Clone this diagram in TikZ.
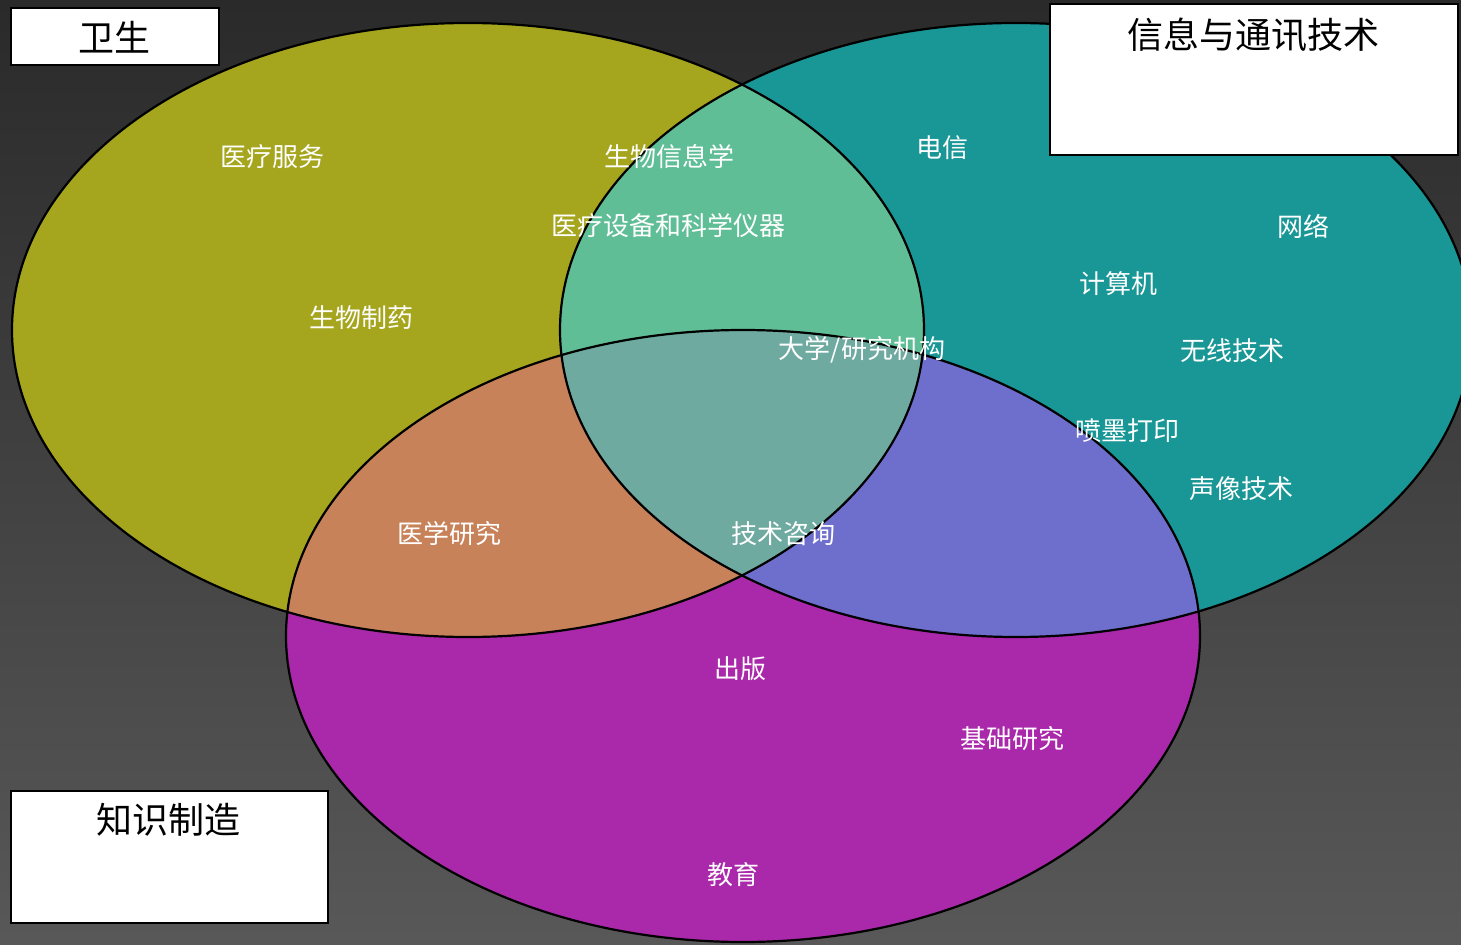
\documentclass[tikz,border=0pt]{standalone}
\usepackage{fontspec}
\newfontfamily\cjk{Noto Sans CJK SC}
\definecolor{ycol}{RGB}{165,165,30}
\definecolor{tcol}{RGB}{25,150,150}
\definecolor{mcol}{RGB}{170,40,170}
\definecolor{ytcol}{RGB}{95,190,150}
\definecolor{ymcol}{RGB}{200,130,90}
\definecolor{tmcol}{RGB}{110,110,205}
\definecolor{allcol}{RGB}{110,170,160}
\definecolor{bgtop}{RGB}{42,42,42}
\definecolor{bgbot}{RGB}{88,88,88}
\tikzset{
  lbl/.style={text=white,font=\cjk\fontsize{13pt}{15pt}\selectfont,inner sep=0pt},
  titlebox/.style={draw=black,line width=1pt,fill=white,inner sep=0pt},
  titletext/.style={text=black,font=\cjk\fontsize{18pt}{20pt}\selectfont,inner sep=0pt},
  outline/.style={draw=black,line width=1.1pt}
}
\begin{document}
\begin{tikzpicture}[x=0.5pt,y=0.5pt]
\useasboundingbox (0,0) rectangle (1461,944);
\shade[top color=bgtop,bottom color=bgbot] (0,0) rectangle (1461,944);
\def\Y{(468,614) ellipse [x radius=456,y radius=307]}
\def\T{(1016,614) ellipse [x radius=456,y radius=307]}
\def\M{(743,308) ellipse [x radius=457,y radius=306]}
\fill[ycol] \Y;
\fill[tcol] \T;
\fill[mcol] \M;
\begin{scope}
  \clip \T;
  \fill[tmcol] \M;
\end{scope}
\begin{scope}
  \clip \Y;
  \fill[ytcol] \T;
  \fill[ymcol] \M;
  \clip \T;
  \fill[allcol] \M;
\end{scope}
\draw[outline] \Y;
\draw[outline] \T;
\draw[outline] \M;
% title boxes
\node[titlebox,minimum width=104pt,minimum height=28.5pt,anchor=north west] (health) at (10,937) {};
\node[titletext] (healthT) at (114,907) {卫生};
\node[titlebox,minimum width=204pt,minimum height=75.5pt,anchor=north west] (ict) at (1049,941) {};
\node[titletext] (ictT) at (1253,909) {信息与通讯技术};
\node[titlebox,minimum width=158.5pt,minimum height=66pt,anchor=north west] (know) at (10,154) {};
\node[titletext] (knowT) at (168,124) {知识制造};
% labels
\node[lbl] (l1) at (272,787) {医疗服务};
\node[lbl] (l2) at (669,787) {生物信息学};
\node[lbl] (l3) at (668,718) {医疗设备和科学仪器};
\node[lbl] (l4) at (361,626) {生物制药};
\node[lbl] (l5) at (942,796) {电信};
\node[lbl] (l6) at (1303,718) {网络};
\node[lbl] (l7) at (1118,660) {计算机};
\node[lbl] (l8) at (1232,593) {无线技术};
\node[lbl] (l9) at (862,594) {大学/研究机构};
\node[lbl] (l10) at (1127,513) {喷墨打印};
\node[lbl] (l11) at (1241,455) {声像技术};
\node[lbl] (l12) at (449,410) {医学研究};
\node[lbl] (l13) at (783,410) {技术咨询};
\node[lbl] (l14) at (740,275) {出版};
\node[lbl] (l15) at (1012,205) {基础研究};
\node[lbl] (l16) at (733,69) {教育};
\end{tikzpicture}
\end{document}
